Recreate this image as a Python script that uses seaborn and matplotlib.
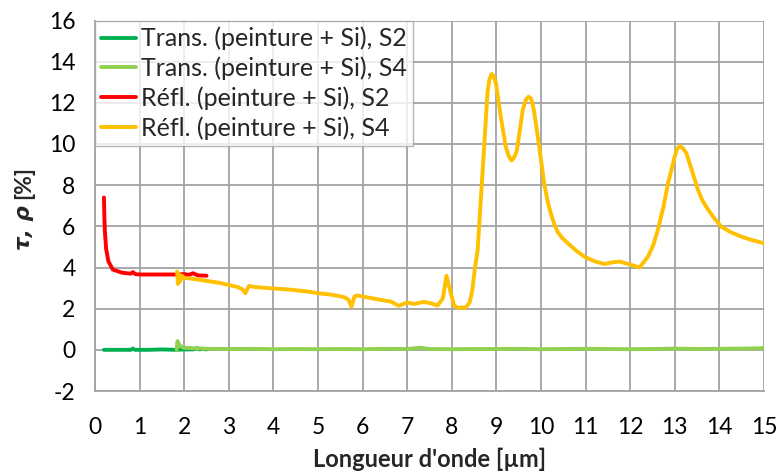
import matplotlib
matplotlib.use("Agg")
import matplotlib.pyplot as plt
import numpy as np
import pandas as pd
import seaborn as sns

# Transmission, S2 sample
trans_s2_x = [0.2, 0.4, 0.6, 0.8, 0.85, 0.9, 1.2, 1.5, 1.8, 2.0, 2.2, 2.3, 2.35, 2.4, 2.5]
trans_s2_y = [0.0, 0.0, 0.0, 0.0, 0.06, 0.0, 0.0, 0.02, 0.0, 0.02, 0.02, 0.08, 0.02, 0.05, 0.02]

# Transmission, S4 sample
trans_s4_x = [1.83, 1.85, 1.9, 2.0, 2.2, 2.5, 3.0, 3.5, 4.0, 4.5, 5.0, 5.5, 6.0, 6.5, 7.0,
              7.3, 7.5, 8.0, 8.5, 9.0, 9.5, 10.0, 10.5, 11.0, 11.5, 12.0, 12.5, 13.0,
              13.5, 14.0, 14.5, 15.0]
trans_s4_y = [0.0, 0.42, 0.2, 0.1, 0.08, 0.05, 0.04, 0.05, 0.03, 0.04, 0.03, 0.04, 0.03,
              0.05, 0.04, 0.1, 0.04, 0.03, 0.04, 0.04, 0.05, 0.03, 0.04, 0.05, 0.04, 0.03,
              0.04, 0.06, 0.04, 0.05, 0.06, 0.08]

# Reflection, S2 sample
refl_s2_x = [0.2, 0.21, 0.22, 0.25, 0.3, 0.4, 0.6, 0.8, 0.85, 0.9, 1.0, 1.5, 1.8, 2.0,
             2.1, 2.2, 2.3, 2.5]
refl_s2_y = [7.4, 6.5, 5.8, 4.9, 4.3, 3.9, 3.75, 3.7, 3.78, 3.68, 3.66, 3.66, 3.66, 3.68,
             3.64, 3.72, 3.62, 3.6]

# Reflection, S4 sample
refl_s4_x = [1.84, 1.86, 1.88, 1.9, 1.95, 2.0, 2.2, 2.5, 2.8, 3.0, 3.2, 3.3, 3.37, 3.45,
             3.6, 4.0, 4.4, 4.8, 5.0, 5.3, 5.57, 5.68, 5.75, 5.82, 5.88, 6.1, 6.4, 6.63,
             6.81, 7.0, 7.15, 7.37, 7.55, 7.68, 7.8, 7.88, 7.95, 8.05, 8.13, 8.31, 8.4,
             8.46, 8.52, 8.58, 8.65, 8.73, 8.8, 8.84, 8.89, 8.94, 8.99, 9.1, 9.21, 9.28,
             9.34, 9.4, 9.46, 9.59, 9.66, 9.72, 9.78, 9.84, 9.96, 10.07, 10.15, 10.22,
             10.3, 10.37, 10.47, 10.6, 10.8, 10.97, 11.2, 11.42, 11.6, 11.76, 12.02,
             12.21, 12.4, 12.52, 12.62, 12.74, 12.85, 13.0, 13.05, 13.11, 13.18, 13.26,
             13.4, 13.52, 13.62, 13.75, 13.9, 14.04, 14.25, 14.49, 14.75, 15.0]
refl_s4_y = [3.8, 3.2, 3.7, 3.3, 3.6, 3.5, 3.45, 3.35, 3.25, 3.15, 3.05, 2.95, 2.75, 3.1,
             3.05, 2.98, 2.92, 2.82, 2.75, 2.68, 2.57, 2.45, 2.1, 2.6, 2.64, 2.55, 2.43,
             2.35, 2.14, 2.3, 2.23, 2.33, 2.25, 2.15, 2.5, 3.6, 3.0, 2.15, 2.05, 2.05,
             2.3, 2.9, 4.0, 4.85, 7.3, 10.0, 12.5, 13.1, 13.4, 13.3, 12.95, 11.3, 9.87,
             9.4, 9.2, 9.35, 9.7, 11.65, 12.15, 12.3, 12.2, 11.65, 9.87, 8.1, 7.2, 6.63,
             6.1, 5.74, 5.45, 5.18, 4.8, 4.53, 4.3, 4.17, 4.25, 4.29, 4.13, 4.0, 4.53,
             5.1, 5.83, 6.9, 8.1, 9.4, 9.75, 9.9, 9.8, 9.55, 8.6, 7.77, 7.25, 6.8, 6.35,
             5.99, 5.72, 5.5, 5.32, 5.18]

series_names = ["Trans. (peinture + Si), S2", "Trans. (peinture + Si), S4",
                "Réfl. (peinture + Si), S2", "Réfl. (peinture + Si), S4"]
series_colors = ["#00B050", "#92D050", "#FF0000", "#FFC000"]
x_ticks = list(range(0, 16))
y_ticks = list(range(-2, 17, 2))

frames = []
for name, xs, ys in zip(series_names,
                        [trans_s2_x, trans_s4_x, refl_s2_x, refl_s4_x],
                        [trans_s2_y, trans_s4_y, refl_s2_y, refl_s4_y]):
    frames.append(pd.DataFrame({"x": xs, "y": ys, "série": name}))
df = pd.concat(frames, ignore_index=True)

sns.set_theme(style="white")
plt.rcParams["font.family"] = ["Lato", "DejaVu Sans"]
plt.rcParams["axes.unicode_minus"] = False

W, H = 777, 475
fig = plt.figure(figsize=(W / 100, H / 100), dpi=100)
ax = fig.add_axes([95 / W, 1 - 391 / H, (764 - 95) / W, (391 - 20.5) / H])

grid_color = "#A3A3A3"
sns.lineplot(data=df, x="x", y="y", hue="série", hue_order=series_names,
             palette=dict(zip(series_names, series_colors)), estimator=None,
             sort=False, linewidth=2.8, ax=ax, zorder=3)

ax.set_xlim(0, 15)
ax.set_ylim(-2, 16)
ax.set_xticks(x_ticks)
ax.set_yticks(y_ticks)
ax.grid(True, color=grid_color, linewidth=1.3)
ax.set_axisbelow(True)
for side in ["top", "right"]:
    ax.spines[side].set_visible(False)
for side in ["left", "bottom"]:
    ax.spines[side].set_color(grid_color)
    ax.spines[side].set_linewidth(1.3)
ax.tick_params(axis="both", which="major", direction="out", length=5, width=1.3,
               color=grid_color, labelsize=16.5, labelcolor="black")
ax.tick_params(axis="y", pad=9)
ax.tick_params(axis="x", pad=14)

ax.set_xlabel("Longueur d'onde [µm]", fontsize=17, fontweight="bold", labelpad=7)
ax.set_ylabel("")

# y-axis title: italic Greek symbols followed by the upright unit
fig.text(24 / W, 1 - 205 / H, "τ, ρ", rotation=90, ha="center", va="top",
         fontsize=15.5, fontweight="bold", fontstyle="italic",
         family=["DejaVu Sans"])
fig.text(24 / W, 1 - 199 / H, "[%]", rotation=90, ha="center", va="bottom",
         fontsize=16.5, fontweight="bold")

leg = ax.legend(loc="upper left", bbox_to_anchor=(0.0, 1.0), fontsize=18,
                frameon=True, fancybox=False, edgecolor=grid_color,
                borderpad=0.25, labelspacing=0.25, handlelength=1.4,
                handletextpad=0.2, borderaxespad=0.0)
leg.get_frame().set_linewidth(1.0)
for line in leg.get_lines():
    line.set_linewidth(2.8)

fig.savefig("out.png", dpi=100)
